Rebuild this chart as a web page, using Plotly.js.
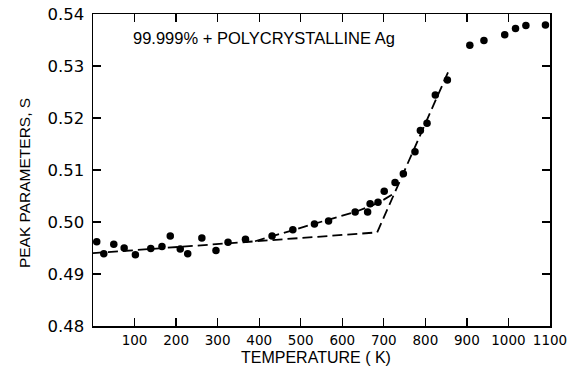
<!DOCTYPE html>
<html>
<head>
<meta charset="utf-8">
<script src="https://cdn.plot.ly/plotly-3.0.1.min.js"></script>
<style>html,body{margin:0;padding:0;background:#fff;}#chart{width:576px;height:370px;}</style>
</head>
<body>
<div id="chart"></div>
<script>
// Measured data points: temperature (K) and peak parameter S
const temperature = [9, 26, 50, 75, 102, 139, 166, 186, 210, 228, 262, 296, 325, 367, 431, 481, 533, 567, 631, 661, 667, 686, 701, 727, 747, 775, 788, 804, 824, 853, 907, 941, 991, 1017, 1042, 1089];
const peakS = [0.4962, 0.4939, 0.4957, 0.4950, 0.4937, 0.4949, 0.4953, 0.4973, 0.4948, 0.4939, 0.4969, 0.4945, 0.4961, 0.4967, 0.4973, 0.4985, 0.4996, 0.5002, 0.5019, 0.5019, 0.5035, 0.5038, 0.5059, 0.5076, 0.5093, 0.5135, 0.5176, 0.5190, 0.5244, 0.5273, 0.5340, 0.5349, 0.5360, 0.5372, 0.5378, 0.5379];

// Dashed fit: straight baseline then steep rise
const fitLowerT = [0, 684, 859];
const fitLowerS = [0.4940, 0.4980, 0.5296];

// Dashed fit following the data above ~400 K
const fitUpperT = [390, 430, 480, 530, 580, 630, 670, 700, 725];
const fitUpperS = [0.4963, 0.4972, 0.4984, 0.4996, 0.5007, 0.5019, 0.5031, 0.5043, 0.5055];

const xTickVals = [100, 200, 300, 400, 500, 600, 700, 800, 900, 1000, 1100];
const xTickText = ["100", "200", "300", "400", "500", "600", "700", "800", "900", "1000", "1100"];
const yTickVals = [0.48, 0.49, 0.50, 0.51, 0.52, 0.53, 0.54];
const yTickText = ["0.48", "0.49", "0.50", "0.51", "0.52", "0.53", "0.54"];

const dashStyle = {color: '#000', width: 1.8, dash: '10px,5px'};

const traces = [
  {x: fitLowerT, y: fitLowerS, mode: 'lines', line: dashStyle, hoverinfo: 'skip', showlegend: false},
  {x: fitUpperT, y: fitUpperS, mode: 'lines', line: dashStyle, hoverinfo: 'skip', showlegend: false},
  {x: temperature, y: peakS, mode: 'markers', marker: {color: '#000', size: 7.5}, showlegend: false, cliponaxis: false}
];

const axisCommon = {
  showline: true, linecolor: '#000', linewidth: 1.5, mirror: 'ticks',
  ticks: 'inside', ticklen: 8, tickwidth: 1.3, tickcolor: '#000',
  showgrid: false, zeroline: false, tickmode: 'array'
};

const layout = {
  width: 576, height: 370,
  margin: {l: 93, r: 26, t: 14, b: 44, pad: 0},
  paper_bgcolor: '#fff', plot_bgcolor: '#fff',
  font: {family: 'DejaVu Sans, sans-serif', color: '#000'},
  xaxis: Object.assign({}, axisCommon, {
    range: [0, 1100], tickvals: xTickVals, ticktext: xTickText,
    tickfont: {family: 'DejaVu Sans', size: 13.5, color: '#000'},
    ticklabelstandoff: 1
  }),
  yaxis: Object.assign({}, axisCommon, {
    range: [0.48, 0.54], tickvals: yTickVals, ticktext: yTickText,
    tickfont: {family: 'DejaVu Sans', size: 16.5, color: '#000'},
    ticklabelstandoff: 4
  }),
  annotations: [
    {text: '99.999% + POLYCRYSTALLINE Ag', xref: 'paper', yref: 'paper', x: 0.083, y: 0.923,
     xanchor: 'left', yanchor: 'middle', showarrow: false,
     font: {family: 'Liberation Sans, Arial, sans-serif', size: 16.5, color: '#000'}},
    {text: 'TEMPERATURE ( K)', xref: 'paper', yref: 'paper', x: 0.487, y: -0.10,
     xanchor: 'center', yanchor: 'middle', showarrow: false,
     font: {family: 'Liberation Sans, Arial, sans-serif', size: 16, color: '#000'}},
    {text: 'PEAK PARAMETERS, S', xref: 'paper', yref: 'paper', x: -0.151, y: 0.458,
     xanchor: 'center', yanchor: 'middle', textangle: -90, showarrow: false,
     font: {family: 'Liberation Sans, Arial, sans-serif', size: 15.5, color: '#000'}}
  ]
};

Plotly.newPlot('chart', traces, layout, {displayModeBar: false, staticPlot: true});
</script>
</body>
</html>
